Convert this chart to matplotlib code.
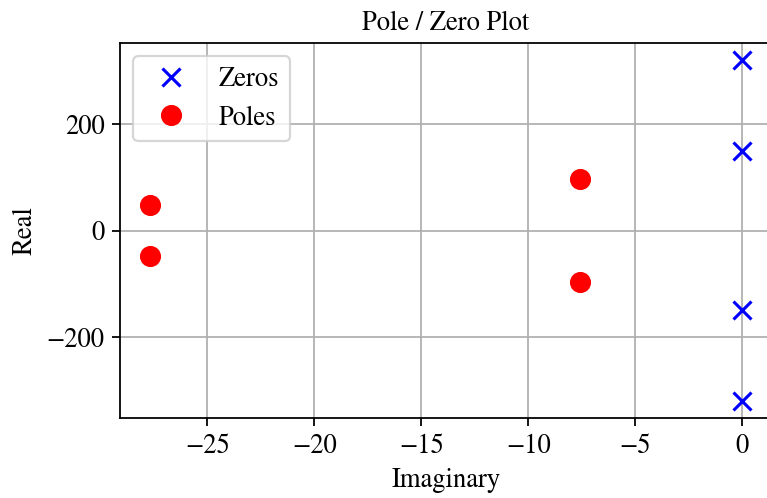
import matplotlib
matplotlib.use("Agg")
import matplotlib.pyplot as plt

# zeros sit on the imaginary axis at 0, poles are two conjugate pairs
zeros_imag = [0, 0, 0, 0]
zeros_real = [320, 150, -150, -320]
poles_imag = [-27.7, -27.7, -7.6, -7.6]
poles_real = [47, -47, 97, -97]

plt.rcParams["font.family"] = "STIXGeneral"
plt.rcParams["mathtext.fontset"] = "stix"
plt.rcParams["font.size"] = 12

DPI = 160
fig = plt.figure(figsize=(767 / DPI, 498 / DPI), dpi=DPI)
ax = fig.add_axes([120 / 767, 80 / 498, (772 - 120) / 767, (418 - 43) / 498])

ax.plot(zeros_imag, zeros_real, "x", color="blue", markersize=8, markeredgewidth=1.4, label="Zeros")
ax.plot(poles_imag, poles_real, "o", color="red", markersize=8.5, label="Poles")

ax.set_title("Pole / Zero Plot", fontsize=12)
ax.set_xlabel("Imaginary")
ax.set_ylabel("Real")
ax.grid(True)
ax.legend(loc="upper left")

fig.savefig("out.png", dpi=DPI)
